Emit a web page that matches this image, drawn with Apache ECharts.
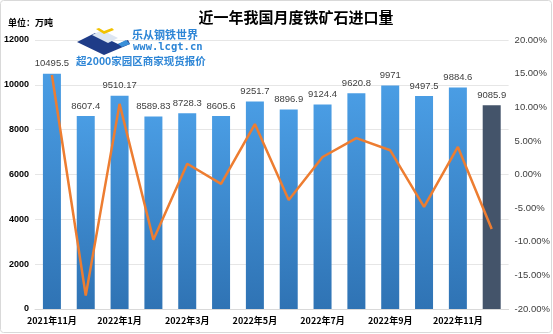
<!DOCTYPE html>
<html>
<head>
<meta charset="utf-8">
<script src="https://cdn.jsdelivr.net/npm/echarts@6/dist/echarts.min.js"></script>
<style>html,body{margin:0;padding:0;background:#fff}#c{width:553px;height:334px}</style>
</head>
<body>
<div id="c"></div>
<script>
var categories = ['2021年11月','2021年12月','2022年1月','2022年2月','2022年3月','2022年4月','2022年5月','2022年6月','2022年7月','2022年8月','2022年9月','2022年10月','2022年11月','2022年12月'];
var imports = [10495.5, 8607.4, 9510.17, 8589.83, 8728.3, 8605.6, 9251.7, 8896.9, 9124.4, 9620.8, 9971, 9497.5, 9884.6, 9085.9];
var momChange = [14.8, -18.0, 10.5, -9.7, 1.6, -1.4, 7.5, -3.8, 2.6, 5.4, 3.6, -4.8, 4.1, -8.1];
var leftTicks = [0, 2000, 4000, 6000, 8000, 10000, 12000];
var rightTicks = [-20, -15, -10, -5, 0, 5, 10, 15, 20];

var chart = echarts.init(document.getElementById('c'));
var blueGrad = new echarts.graphic.LinearGradient(0,0,0,1,[{offset:0,color:'#4A9DE4'},{offset:1,color:'#2F73B4'}]);
var barData = imports.map(function(v,i){
  return i === imports.length-1 ? {value:v, itemStyle:{color:'#44546A'}} : {value:v, itemStyle:{color:blueGrad}};
});
var font = '"Liberation Sans", Arial, sans-serif';
chart.setOption({
  animation:false,
  title:{text:'近一年我国月度铁矿石进口量', left:291, top:5, textAlign:'center',
    textStyle:{fontSize:15, fontWeight:'bold', color:'#000', fontFamily:'"Noto Sans CJK SC", sans-serif'}},
  grid:{left:35, right:41, top:40, bottom:25},
  xAxis:{type:'category', data:categories,
    axisLine:{show:true, lineStyle:{color:'#D9D9D9'}}, axisTick:{show:false},
    axisLabel:{interval:1, fontSize:9, fontWeight:'bold', color:'#000', margin:7, fontFamily:'"Noto Sans CJK SC", sans-serif'}},
  yAxis:[
    {type:'value', min:leftTicks[0], max:leftTicks[leftTicks.length-1], interval:2000,
      axisLine:{show:false}, axisTick:{show:false},
      splitLine:{lineStyle:{color:'#E6E6E6', width:1}},
      axisLabel:{fontSize:9, color:'#000', fontWeight:'bold', margin:6, fontFamily:font,
        formatter:function(v){return String(v);}}},
    {type:'value', min:rightTicks[0], max:rightTicks[rightTicks.length-1], interval:5,
      axisLine:{show:false}, axisTick:{show:false}, splitLine:{show:false},
      axisLabel:{fontSize:9.5, color:'#404040', margin:6, fontFamily:font,
        formatter:function(v){return v.toFixed(2)+'%';}}}
  ],
  series:[
    {type:'bar', data:barData, barWidth:18, yAxisIndex:0,
      label:{show:true, position:'top', distance:5, fontSize:9.5, color:'#404040', fontFamily:font},
      z:2},
    {type:'line', data:momChange, yAxisIndex:1, showSymbol:false, symbol:'none',
      lineStyle:{color:'#ED7D31', width:2.5}, z:3}
  ],
  graphic:[
    {type:'rect', shape:{x:0.5,y:0.5,width:551,height:332,r:3}, style:{fill:'none', stroke:'#D9D9D9', lineWidth:1}, z:-1},
    {type:'text', left:8, top:18, style:{text:'单位：万吨', font:'bold 9px "Noto Sans CJK SC", sans-serif', fill:'#000'}},
    {type:'polygon', shape:{points:[[77,42],[95,33],[118,44],[128,40],[130,44],[104,55]]}, style:{fill:'#1F3C88'}, z:10},
    {type:'polygon', shape:{points:[[92,35],[102,30],[118,38],[108,43]]}, style:{fill:'#DDE6F2'}, z:10},
    {type:'polygon', shape:{points:[[96,29],[99,28],[104,31],[112,28],[114,30],[104,34]]}, style:{fill:'#F2C200'}, z:10},
    {type:'polygon', shape:{points:[[118,44],[126,40],[130,44],[122,47]]}, style:{fill:'#3A8FD8'}, z:11},
    {type:'text', left:132, top:29, style:{text:'乐从钢铁世界', font:'bold 11px "Noto Sans CJK SC", sans-serif', fill:'#2E86D6'}, z:10},
    {type:'text', left:133, top:42, style:{text:'www.lcgt.cn', font:'bold 10.5px "DejaVu Sans Mono", monospace', fill:'#2E86D6'}, z:10},
    {type:'text', left:76, top:56, style:{text:'超2000家园区商家现货报价', font:'bold 10.5px "Noto Sans CJK SC", sans-serif', fill:'#2E86D6'}, z:10}
  ]
});
</script>
</body>
</html>
